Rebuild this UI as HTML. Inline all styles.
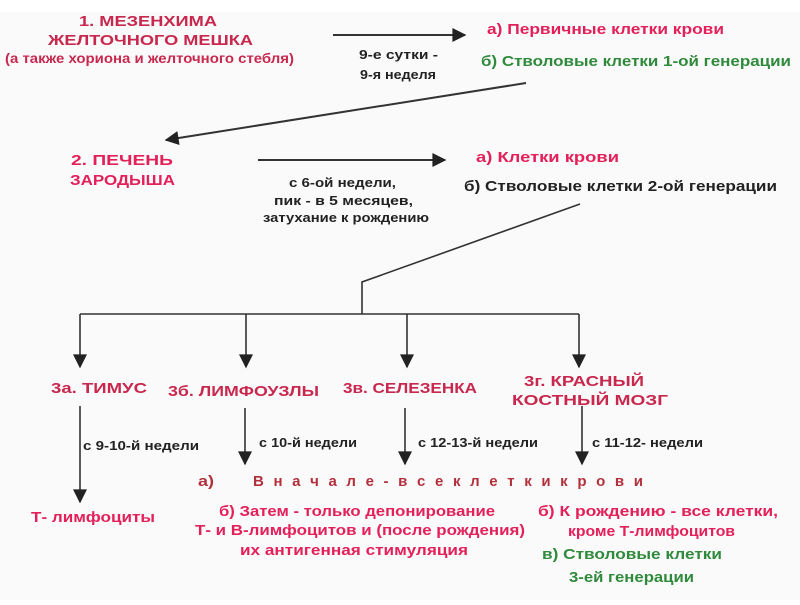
<!DOCTYPE html>
<html><head><meta charset="utf-8"><style>
html,body{margin:0;padding:0;background:#fff}
svg text{font-family:"Liberation Sans",sans-serif;font-weight:bold}
.r{fill:#c8284e}.p{fill:#e3205a}.g{fill:#2f8a3c}.k{fill:#222}
</style></head><body>
<svg width="800" height="600" viewBox="0 0 800 600" xmlns="http://www.w3.org/2000/svg">
<rect width="800" height="600" fill="#fafafa"/>
<rect width="800" height="12" fill="#fff"/>
<defs><marker id="b" viewBox="0 0 10 10" refX="9" refY="5" markerWidth="16" markerHeight="14" markerUnits="userSpaceOnUse" orient="auto"><path d="M0,0L10,5L0,10z" fill="#222"/></marker></defs>
<g stroke="#333" stroke-width="1.6" fill="none">
<line x1="333" y1="35" x2="465" y2="35" stroke-width="2" marker-end="url(#b)"/>
<line x1="526" y1="83" x2="166" y2="140" stroke-width="2" marker-end="url(#b)"/>
<line x1="258" y1="160" x2="445" y2="160" stroke-width="2" marker-end="url(#b)"/>
<polyline points="580,204 362,282 362,314"/>
<line x1="80" y1="314" x2="579" y2="314"/>
<line x1="80" y1="314" x2="80" y2="367" marker-end="url(#b)"/>
<line x1="246" y1="314" x2="246" y2="367" marker-end="url(#b)"/>
<line x1="407" y1="314" x2="407" y2="367" marker-end="url(#b)"/>
<line x1="579" y1="314" x2="579" y2="367" marker-end="url(#b)"/>
<line x1="80" y1="406" x2="80" y2="502" marker-end="url(#b)"/>
<line x1="245" y1="408" x2="245" y2="464" marker-end="url(#b)"/>
<line x1="405" y1="408" x2="405" y2="464" marker-end="url(#b)"/>
<line x1="582" y1="406" x2="582" y2="464" marker-end="url(#b)"/>
</g>
<g font-size="15" lengthAdjust="spacingAndGlyphs">
<text class="r" x="79" y="26" textLength="138" lengthAdjust="spacingAndGlyphs">1.  МЕЗЕНХИМА</text>
<text class="r" x="48" y="45" textLength="205" lengthAdjust="spacingAndGlyphs">ЖЕЛТОЧНОГО МЕШКА</text>
<text class="r" x="5" y="63" font-size="14" textLength="289" lengthAdjust="spacingAndGlyphs">(а также хориона и желточного стебля)</text>
<text class="k" x="359" y="59" font-size="13" textLength="79" lengthAdjust="spacingAndGlyphs">9-е сутки -</text>
<text class="k" x="360" y="79" font-size="13" textLength="76" lengthAdjust="spacingAndGlyphs">9-я неделя</text>
<text class="p" x="487" y="34" textLength="237" lengthAdjust="spacingAndGlyphs">а) Первичные клетки крови</text>
<text class="g" x="481" y="66" textLength="310" lengthAdjust="spacingAndGlyphs">б) Стволовые клетки 1-ой генерации</text>
<text class="p" x="71" y="165" textLength="102" lengthAdjust="spacingAndGlyphs">2.  ПЕЧЕНЬ</text>
<text class="p" x="70" y="185" textLength="105" lengthAdjust="spacingAndGlyphs">ЗАРОДЫША</text>
<text class="k" x="289" y="187" font-size="13" textLength="107" lengthAdjust="spacingAndGlyphs">с 6-ой недели,</text>
<text class="k" x="274" y="205" font-size="13" textLength="139" lengthAdjust="spacingAndGlyphs">пик - в 5 месяцев,</text>
<text class="k" x="263" y="222" font-size="13" textLength="166" lengthAdjust="spacingAndGlyphs">затухание к рождению</text>
<text class="p" x="476" y="162" textLength="143" lengthAdjust="spacingAndGlyphs">а) Клетки  крови</text>
<text class="k" x="464" y="191" textLength="313" lengthAdjust="spacingAndGlyphs">б) Стволовые клетки 2-ой генерации</text>
<text class="r" x="51" y="393" textLength="96" lengthAdjust="spacingAndGlyphs">3а.  ТИМУС</text>
<text class="r" x="168" y="396" textLength="151" lengthAdjust="spacingAndGlyphs">3б.  ЛИМФОУЗЛЫ</text>
<text class="r" x="343" y="393" textLength="134" lengthAdjust="spacingAndGlyphs">3в.  СЕЛЕЗЕНКА</text>
<text class="r" x="524" y="386" textLength="120" lengthAdjust="spacingAndGlyphs">3г.  КРАСНЫЙ</text>
<text class="r" x="512" y="405" textLength="156" lengthAdjust="spacingAndGlyphs">КОСТНЫЙ МОЗГ</text>
<text class="k" x="83" y="450" font-size="13" textLength="116" lengthAdjust="spacingAndGlyphs">с 9-10-й недели</text>
<text class="k" x="259" y="447" font-size="13" textLength="98" lengthAdjust="spacingAndGlyphs">с 10-й недели</text>
<text class="k" x="418" y="447" font-size="13" textLength="120" lengthAdjust="spacingAndGlyphs">с 12-13-й недели</text>
<text class="k" x="592" y="447" font-size="13" textLength="111" lengthAdjust="spacingAndGlyphs">с 11-12- недели</text>
<text fill="#b2303c" x="198" y="486" textLength="16" lengthAdjust="spacingAndGlyphs">а)</text>
<text fill="#b2303c" x="253" y="486" textLength="390" lengthAdjust="spacing">В н а ч а л е  -  в с е   к л е т к и   к р о в и</text>
<text class="p" x="31" y="522" textLength="124" lengthAdjust="spacingAndGlyphs">Т- лимфоциты</text>
<text class="p" x="219" y="516" textLength="276" lengthAdjust="spacingAndGlyphs">б) Затем - только депонирование</text>
<text class="p" x="195" y="535" textLength="330" lengthAdjust="spacingAndGlyphs">Т- и В-лимфоцитов и (после рождения)</text>
<text class="p" x="240" y="555" textLength="228" lengthAdjust="spacingAndGlyphs">их антигенная стимуляция</text>
<text class="p" x="538" y="516" textLength="240" lengthAdjust="spacingAndGlyphs">б) К рождению - все клетки,</text>
<text class="p" x="568" y="536" textLength="167" lengthAdjust="spacingAndGlyphs">кроме Т-лимфоцитов</text>
<text class="g" x="542" y="559" textLength="180" lengthAdjust="spacingAndGlyphs">в) Стволовые клетки</text>
<text class="g" x="569" y="582" textLength="125" lengthAdjust="spacingAndGlyphs">3-ей генерации</text>
</g>
</svg>
</body></html>
